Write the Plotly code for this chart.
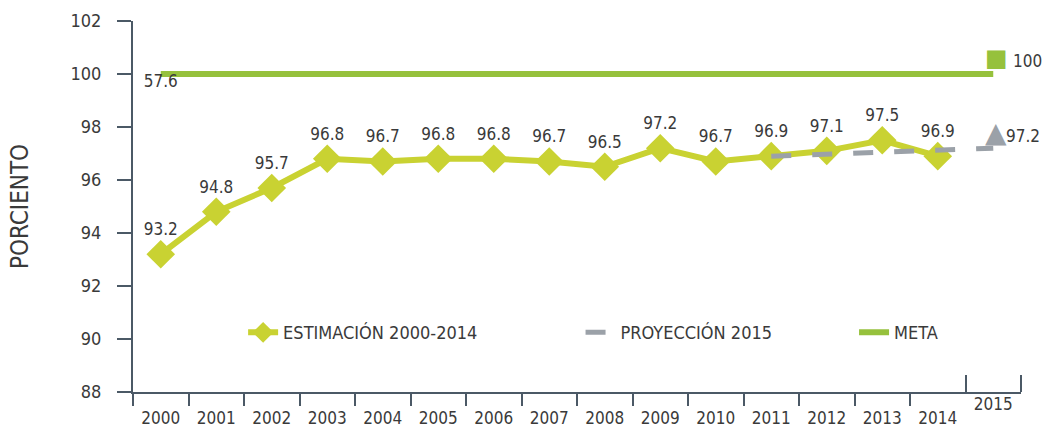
import plotly.graph_objects as go

# ---- data ----
YEARS = [str(y) for y in range(2000, 2016)]
EST_YEARS = [str(y) for y in range(2000, 2015)]
EST_VALUES = [93.2, 94.8, 95.7, 96.8, 96.7, 96.8, 96.8, 96.7, 96.5, 97.2, 96.7, 96.9, 97.1, 97.5, 96.9]
PROJ_YEARS = ["2011", "2015"]
PROJ_VALUES = [96.9, 97.2]
META_YEARS = YEARS
META_VALUES = [100] * len(YEARS)
META_TEXT = ["57.6"] + [""] * (len(YEARS) - 1)
Y_TICKS = [88, 90, 92, 94, 96, 98, 100, 102]

FONT = "DejaVu Sans Condensed, DejaVu Sans, sans-serif"
C_EST = "#c9d232"
C_META = "#96c13c"
C_PROJ = "#9ba1a8"
C_TEXT = "#3a3a3a"
C_AXIS = "#4b5966"

fig = go.Figure()

fig.add_trace(go.Scatter(
    x=META_YEARS, y=META_VALUES, mode="lines+text", name="META",
    line=dict(color=C_META, width=6), text=META_TEXT, textposition="bottom center",
    textfont=dict(family=FONT, size=17, color=C_TEXT), legend="legend3",
))
fig.add_trace(go.Scatter(
    x=EST_YEARS, y=EST_VALUES, mode="lines+markers+text", name="ESTIMACIÓN 2000-2014",
    line=dict(color=C_EST, width=6),
    marker=dict(symbol="diamond", size=22, color=C_EST),
    texttemplate="%{y:.1f}", textposition="top center",
    textfont=dict(family=FONT, size=17, color=C_TEXT), legend="legend",
))
fig.add_trace(go.Scatter(
    x=PROJ_YEARS, y=PROJ_VALUES, mode="lines", name="PROYECCIÓN 2015",
    line=dict(color=C_PROJ, width=5, dash="20px,21px"), legend="legend2",
))

# helper (empty) traces so the overlay tick axes are drawn
fig.add_trace(go.Scatter(x=[], y=[], xaxis="x2", showlegend=False, hoverinfo="skip"))
fig.add_trace(go.Scatter(x=[], y=[], xaxis="x3", showlegend=False, hoverinfo="skip"))

# end symbols and their labels (category index of the end year)
proj_end = YEARS.index(PROJ_YEARS[-1])
meta_end = YEARS.index(META_YEARS[-1])
fig.add_annotation(x=proj_end, y=PROJ_VALUES[-1], text="▲", showarrow=False,
                   xanchor="center", yanchor="middle", xshift=3, yshift=16,
                   font=dict(family="DejaVu Sans", size=28, color=C_PROJ))
fig.add_annotation(x=meta_end, y=META_VALUES[-1], text="■", showarrow=False,
                   xanchor="center", yanchor="middle", xshift=3, yshift=16,
                   font=dict(family="DejaVu Sans", size=24, color=C_META))
fig.add_annotation(x=proj_end, y=PROJ_VALUES[-1], text=f"{PROJ_VALUES[-1]:.1f}",
                   showarrow=False, xanchor="left", yanchor="middle", xshift=11, yshift=12,
                   font=dict(family=FONT, size=17, color=C_TEXT))
fig.add_annotation(x=meta_end, y=META_VALUES[-1], text=str(META_VALUES[-1]),
                   showarrow=False, xanchor="left", yanchor="middle", xshift=18, yshift=13,
                   font=dict(family=FONT, size=17, color=C_TEXT))

n = len(YEARS)
xr = [-0.5, n - 0.5]
leg = dict(orientation="h", y=0.16, xanchor="left", yanchor="middle",
           font=dict(family=FONT, size=18, color=C_TEXT), bgcolor="rgba(0,0,0,0)")
fig.update_layout(
    width=1042, height=430,
    margin=dict(l=133, r=21, t=21, b=38, autoexpand=False),
    paper_bgcolor="white", plot_bgcolor="white",
    font=dict(family=FONT, size=17, color=C_TEXT),
    showlegend=True,
    legend=dict(leg, x=0.124),
    legend2=dict(leg, x=0.504),
    legend3=dict(leg, x=0.812),
    xaxis=dict(type="category", categoryorder="array", categoryarray=YEARS, range=xr,
               tickvals=EST_YEARS, ticktext=EST_YEARS, ticks="", ticklabelstandoff=10,
               automargin=False,
               showline=True, linecolor=C_AXIS, linewidth=2, showgrid=False, zeroline=False,
               tickfont=dict(family=FONT, size=17, color=C_TEXT)),
    xaxis2=dict(overlaying="x", anchor="y", range=xr, showgrid=False, zeroline=False,
                automargin=False,
                tickvals=[i - 0.5 for i in range(len(EST_YEARS))], showticklabels=False,
                ticks="outside", ticklen=13, tickwidth=2, tickcolor=C_AXIS, showline=False),
    xaxis3=dict(overlaying="x", anchor="y", range=xr, showgrid=False, zeroline=False,
                automargin=False,
                tickvals=[n - 1], ticktext=[YEARS[-1]], ticks="", ticklabelstandoff=0,
                tickfont=dict(family=FONT, size=17, color=C_TEXT), showline=False,
                minor=dict(tickvals=[n - 1.5, n - 0.5], ticks="inside", ticklen=17,
                           tickwidth=2, tickcolor=C_AXIS)),
    yaxis=dict(range=[88, 102], tickvals=Y_TICKS, ticks="outside", ticklen=14, tickwidth=2,
               tickcolor=C_AXIS, showline=True, linecolor=C_AXIS, linewidth=2,
               showgrid=False, zeroline=False, automargin=False, ticklabelstandoff=12,
               tickfont=dict(family=FONT, size=18, color=C_TEXT),
               title=dict(text="PORCIENTO", standoff=35,
                          font=dict(family=FONT, size=24, color=C_TEXT))),
)

# remove the browser's default 8px body margin so the figure fills the window exactly
fig.write_html("out.html", config={"displayModeBar": False},
               post_script="document.body.style.margin='0px';")
